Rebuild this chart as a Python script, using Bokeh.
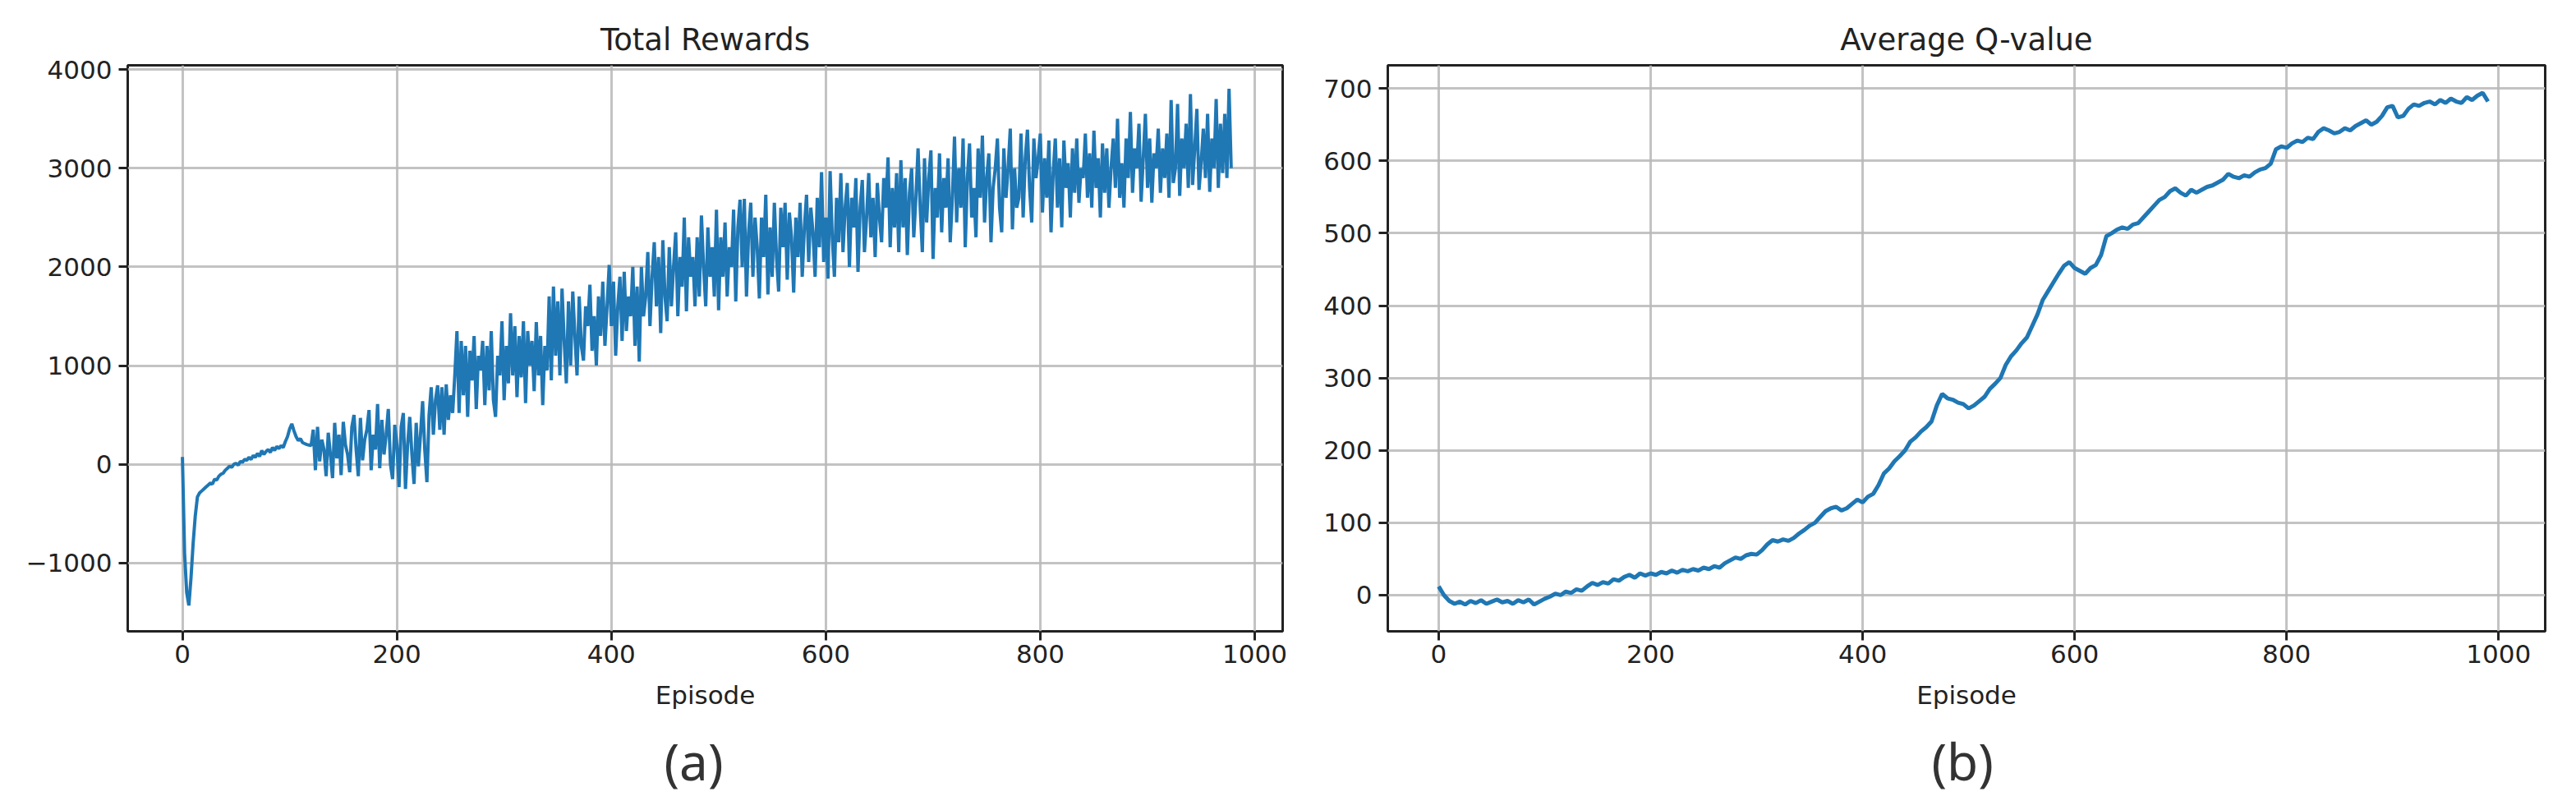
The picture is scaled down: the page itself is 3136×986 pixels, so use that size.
from bokeh.plotting import figure
from bokeh.layouts import row
from bokeh.models import Range1d, FixedTicker, Title
from bokeh.embed import file_html
from bokeh.resources import INLINE

# ---------------- data ----------------
reward_step = 2
rewards = [
    75, -900, -1300, -1430, -1150, -800, -520, -330, -290, -270,
    -250, -230, -210, -190, -200, -150, -160, -120, -100, -90,
    -60, -40, -20, -30, 0, 10, -10, 30, 20, 50,
    40, 70, 50, 90, 70, 110, 80, 140, 100, 130,
    150, 120, 170, 140, 180, 160, 190, 170, 230, 280,
    360, 410, 340, 280, 240, 260, 220, 210, 200, 195,
    190, 350, -60, 380, 30, 250, 150, -120, 320, 100,
    -140, 420, 60, 300, -110, 430, 200, 100, -80, 380,
    500, 150, -120, 470, 40, 250, 350, 550, -60, 300,
    150, 610, -40, 450, 100, 300, 560, 0, -150, 400,
    200, -230, 380, 520, -250, 200, 480, 100, -200, 420,
    -20, 300, 640, 150, -180, 500, 780, 300, 650, 800,
    350, 780, 300, 810, 450, 700, 520, 900, 1350, 520,
    1250, 700, 1200, 480, 1150, 850, 1300, 560, 1100, 950,
    1250, 600, 1200, 750, 1350, 650, 480, 1100, 900, 1450,
    650, 1200, 820, 1530, 900, 1400, 680, 1300, 880, 1450,
    620, 1350, 1000, 1250, 740, 1440, 900, 1300, 600, 1200,
    950, 1700, 850, 1800, 1100, 1650, 900, 1780, 1250, 820,
    1650, 1000, 1750, 1300, 900, 1700, 1200, 1050, 1600, 1400,
    1820, 1150, 1500, 1000, 1700, 1300, 1850, 1200, 1600, 2020,
    1400, 1850, 1100, 1600, 1900, 1250, 1950, 1350, 1700, 1500,
    2000, 1200, 1800, 1040, 2000, 1500, 1700, 2150, 1400, 1900,
    2250, 1600, 2100, 1330, 2270, 1700, 1450, 2200, 1600, 2000,
    2350, 1500, 2100, 1800, 2500, 1550, 2300, 1900, 2100, 1600,
    2300, 1700, 2520, 2000, 1600, 2400, 1900, 2200, 1700, 2580,
    1560, 2300, 1900, 2450, 1700, 2200, 2000, 2580, 1650, 2400,
    2680, 2000, 2690, 1700, 2350, 2650, 1900, 2500, 2200, 1680,
    2500, 2100, 2730, 1720, 2400, 1900, 2650, 2100, 1750, 2600,
    2200, 2650, 1870, 2550, 2300, 1740, 2500, 2100, 2650, 1900,
    2400, 2730, 2050, 2600, 2350, 1900, 2700, 2200, 2960, 2050,
    2500, 1880, 2970, 2300, 1900, 2700, 2250, 2950, 2150, 2600,
    2850, 2000, 2700, 2400, 2900, 1950, 2600, 2880, 2150, 2500,
    2950, 2300, 2700, 2100, 2850, 2500, 2250, 2900, 2600, 3110,
    2200, 2800, 2400, 2950, 2150, 3080, 2400, 2900, 2120, 2750,
    3000, 2300, 2700, 3200, 2600, 2150, 3100, 2450, 2900, 3180,
    2080, 2800, 2500, 3150, 2350, 2900, 2600, 3100, 2250, 2700,
    3320, 2450, 3000, 2600, 3300, 2200, 2900, 3250, 2500, 2800,
    2300, 3200, 2700, 3330, 2450, 2900, 3150, 2250, 2800, 3000,
    3300, 2600, 2350, 3200, 2700, 3000, 3400, 2380, 3000, 2600,
    2700, 3350, 2500, 3100, 3390, 2800, 2450, 3300, 2900, 3100,
    3350, 2550, 3100, 2700, 3280, 2350, 2950, 3300, 2600, 3100,
    2400, 3280, 2800, 3050, 2500, 3200, 2750, 3300, 2650, 3000,
    2900, 3350, 2700, 3150, 2600, 3380, 2800, 3100, 2500, 3250,
    2750, 3200, 2600, 3000, 3300, 2800, 3500, 2700, 3050, 2600,
    3300, 2900, 3570, 2750, 3200, 3000, 3450, 2660, 3100, 3550,
    2800, 3300, 2650, 3150, 3000, 3400, 2750, 3200, 2900, 3350,
    2700, 3690, 2850, 3000, 3650, 2720, 3300, 3000, 3450, 2800,
    3750, 2830, 3200, 3600, 2780, 3050, 3400, 2900, 3550, 2760,
    3300, 3000, 3700, 2800, 3450, 2950, 3550, 2900, 3805, 3000,
]

q_step = 5
q_values = [
    12, 0, -8, -12, -9, -13, -8, -11, -7, -12,
    -9, -6, -10, -8, -12, -7, -10, -6, -13, -9,
    -5, -2, 2, 0, 5, 3, 8, 6, 12, 17,
    14, 18, 16, 22, 20, 25, 28, 24, 30, 27,
    30, 28, 32, 30, 34, 31, 35, 33, 36, 34,
    38, 36, 40, 38, 44, 48, 52, 50, 55, 57,
    56, 62, 70, 76, 74, 77, 75, 79, 85, 90,
    96, 100, 108, 116, 120, 122, 117, 120, 126, 132,
    128, 136, 140, 152, 168, 175, 185, 192, 200, 212,
    218, 226, 232, 240, 262, 278, 272, 270, 266, 264,
    258, 262, 268, 274, 285, 292, 300, 318, 330, 338,
    348, 356, 372, 388, 408, 420, 432, 444, 455, 460,
    452, 448, 444, 452, 456, 470, 496, 500, 505, 508,
    506, 512, 514, 522, 530, 538, 546, 550, 558, 562,
    556, 552, 560, 556, 560, 564, 566, 570, 574, 582,
    578, 576, 580, 578, 584, 588, 590, 596, 616, 620,
    618, 624, 628, 626, 632, 630, 640, 645, 642, 638,
    640, 645, 642, 648, 652, 656, 650, 654, 662, 674,
    676, 660, 662, 672, 678, 676, 680, 682, 678, 684,
    680, 686, 682, 680, 688, 684, 690, 694, 682,
]

reward_episodes = list(range(0, reward_step * len(rewards), reward_step))
q_episodes = list(range(0, q_step * len(q_values), q_step))

x_ticks = [0, 200, 400, 600, 800, 1000]
reward_ticks = [-1000, 0, 1000, 2000, 3000, 4000]
q_ticks = [0, 100, 200, 300, 400, 500, 600, 700]

titles = ["Total Rewards", "Average Q-value"]
x_label = "Episode"
captions = ["(a)", "(b)"]

LINE = "#1f77b4"
TXT = "#222222"
FONT = "DejaVu Sans"


def make_panel(xs, ys, title, caption, xr, yr, yticks, fw, mb_left, mb_right,
               cap_offset, lw):
    p = figure(frame_width=fw, frame_height=689, output_backend="svg", toolbar_location=None,
               x_range=Range1d(*xr), y_range=Range1d(*yr),
               min_border_left=mb_left, min_border_right=mb_right,
               min_border_top=79, min_border_bottom=200)
    p.title.text = title
    p.title.align = "center"
    p.title.text_font = FONT
    p.title.text_font_size = "37px"
    p.title.text_font_style = "normal"
    p.title.text_color = TXT
    p.title.standoff = 20

    p.line(xs, ys, line_color=LINE, line_width=lw)

    p.xaxis.ticker = FixedTicker(ticks=x_ticks)
    p.yaxis.ticker = FixedTicker(ticks=yticks)
    p.xaxis.axis_label = x_label
    for ax in (p.xaxis[0], p.yaxis[0]):
        ax.axis_line_color = None
        ax.major_tick_in = 0
        ax.major_tick_out = 11
        ax.major_tick_line_color = TXT
        ax.major_tick_line_width = 3
        ax.minor_tick_line_color = None
        ax.major_label_text_font = FONT
        ax.major_label_text_font_size = "31px"
        ax.major_label_text_color = TXT
        ax.axis_label_text_font = FONT
        ax.axis_label_text_font_size = "31px"
        ax.axis_label_text_font_style = "normal"
        ax.axis_label_text_color = TXT
    p.xaxis.major_label_standoff = 5
    p.xaxis.axis_label_standoff = 18
    p.yaxis.major_label_standoff = 8

    p.grid.grid_line_color = "#b8b8b8"
    p.grid.grid_line_width = 3
    p.grid.grid_line_alpha = 0.85

    p.outline_line_color = TXT
    p.outline_line_width = 3
    p.outline_line_alpha = 1.0
    p.background_fill_color = "white"
    p.border_fill_color = "white"

    cap = Title(text=caption, align="left", text_font="Noto Sans", text_font_size="62px",
                text_font_style="normal", text_color="#333333", standoff=30, offset=cap_offset)
    p.add_layout(cap, "below")
    return p


p1 = make_panel(reward_episodes, rewards, titles[0], captions[0],
                (-51, 1026), (-1692, 4042), reward_ticks, 1406, 155, 47, 653, 4)
p2 = make_panel(q_episodes, q_values, titles[1], captions[1],
                (-48, 1044), (-50, 732), q_ticks, 1409, 81, 30, 662, 5)

layout = row(p1, p2)
open("out.html", "w").write(file_html(layout, INLINE))
